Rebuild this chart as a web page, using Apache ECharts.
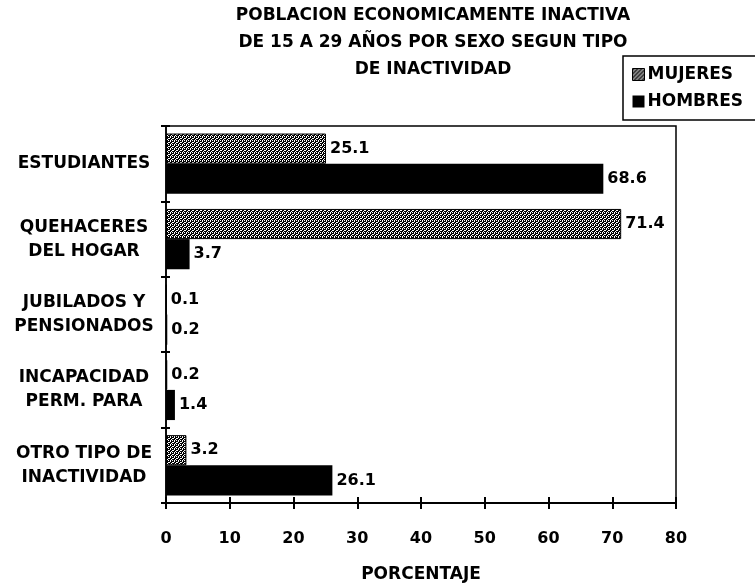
<!DOCTYPE html>
<html>
<head>
<meta charset="utf-8">
<script src="https://cdn.jsdelivr.net/npm/echarts@6/dist/echarts.min.js"></script>
<style>
html, body { margin: 0; padding: 0; background: #fff; }
#chart { width: 755px; height: 588px; }
</style>
</head>
<body>
<div id="chart"></div>
<script>
var categories = ["ESTUDIANTES", "QUEHACERES\nDEL HOGAR", "JUBILADOS Y\nPENSIONADOS", "INCAPACIDAD\nPERM. PARA", "OTRO TIPO DE\nINACTIVIDAD"]
var mujeres = [25.1, 71.4, 0.1, 0.2, 3.2]
var hombres = [68.6, 3.7, 0.2, 1.4, 26.1]
var xTicks = [0, 10, 20, 30, 40, 50, 60, 70, 80]

var font = "DejaVu Sans"

// dotted grey fill for the MUJERES bars
var pat = document.createElement("canvas")
pat.width = 4
pat.height = 4
var pctx = pat.getContext("2d")
pctx.fillStyle = "#000"
pctx.fillRect(0, 0, 4, 4)
pctx.fillStyle = "#fff"
pctx.fillRect(0, 0, 1, 1)
pctx.fillRect(2, 1, 1, 1)
pctx.fillRect(1, 2, 1, 1)
pctx.fillRect(3, 3, 1, 1)
pctx.fillRect(2, 0, 1, 1)
pctx.fillRect(0, 2, 1, 1)
var patFill = { image: pat, repeat: "repeat" }

var chartDom = document.getElementById("chart")
var myChart = echarts.init(chartDom)
var option

var labelStyle = {
    show: true,
    position: "right",
    distance: 4,
    color: "#000",
    fontFamily: font,
    fontWeight: "bold",
    fontSize: 16,
    formatter: function (p) { return p.value.toFixed(1) }
}

option = {
    backgroundColor: "#fff",
    title: {
        text: "POBLACION ECONOMICAMENTE INACTIVA\nDE 15 A 29 AÑOS POR SEXO SEGUN TIPO\nDE INACTIVIDAD",
        left: 428,
        textAlign: "center",
        top: -3,
        textStyle: {
            fontFamily: font,
            fontWeight: "bold",
            fontSize: 17,
            lineHeight: 27,
            color: "#000"
        }
    },
    legend: {
        orient: "vertical",
        left: 623,
        top: 56,
        padding: [10, 30, 10, 9],
        itemGap: 10,
        itemWidth: 12,
        itemHeight: 12,
        borderColor: "#000",
        borderWidth: 1.5,
        textStyle: {
            fontFamily: font,
            fontWeight: "bold",
            fontSize: 17,
            color: "#000",
            padding: [0, 0, 0, -2]
        },
        data: [
            { name: "MUJERES", icon: "rect", itemStyle: { color: patFill, borderColor: "#000", borderWidth: 1 } },
            { name: "HOMBRES", icon: "rect" }
        ]
    },
    grid: {
        left: 166,
        top: 126,
        right: 79,
        bottom: 81,
        show: true,
        borderColor: "#000",
        borderWidth: 1.5
    },
    xAxis: [
        {
            type: "value",
            min: 0,
            max: 80,
            interval: 10,
            name: "PORCENTAJE",
            nameLocation: "middle",
            nameGap: 63,
            nameTextStyle: { fontFamily: font, fontWeight: "bold", fontSize: 17, color: "#000" },
            axisLine: { show: true, lineStyle: { color: "#000", width: 2 } },
            axisTick: { show: true, length: 6, lineStyle: { color: "#000", width: 2 } },
            axisLabel: {
                margin: 28,
                color: "#000",
                fontFamily: font,
                fontWeight: "bold",
                fontSize: 16,
                formatter: function (v) { return xTicks.indexOf(v) >= 0 ? String(v) : "" }
            },
            splitLine: { show: false }
        },
        {
            type: "value",
            min: 0,
            max: 80,
            interval: 10,
            position: "bottom",
            axisLine: { show: false },
            axisTick: { show: true, inside: true, length: 6, lineStyle: { color: "#000", width: 2 } },
            axisLabel: { show: false },
            splitLine: { show: false }
        }
    ],
    yAxis: [
        {
            type: "category",
            inverse: true,
            data: categories,
            axisLine: { show: true, lineStyle: { color: "#000", width: 1.5 } },
            axisTick: { show: true, length: 5, lineStyle: { color: "#000", width: 2 } },
            axisLabel: {
                align: "center",
                margin: 82,
                color: "#000",
                fontFamily: font,
                fontWeight: "bold",
                fontSize: 17,
                lineHeight: 24
            }
        },
        {
            type: "category",
            inverse: true,
            position: "left",
            data: categories,
            axisLine: { show: false },
            axisTick: { show: true, inside: true, length: 4, lineStyle: { color: "#000", width: 2 } },
            axisLabel: { show: false }
        }
    ],
    series: [
        {
            name: "MUJERES",
            type: "bar",
            data: mujeres,
            barGap: "0%",
            barCategoryGap: "20%",
            itemStyle: { color: patFill, borderColor: "#000", borderWidth: 1 },
            label: labelStyle
        },
        {
            name: "HOMBRES",
            type: "bar",
            data: hombres,
            itemStyle: { color: "#000" },
            label: labelStyle
        }
    ]
}

option && myChart.setOption(option)
</script>
</body>
</html>
